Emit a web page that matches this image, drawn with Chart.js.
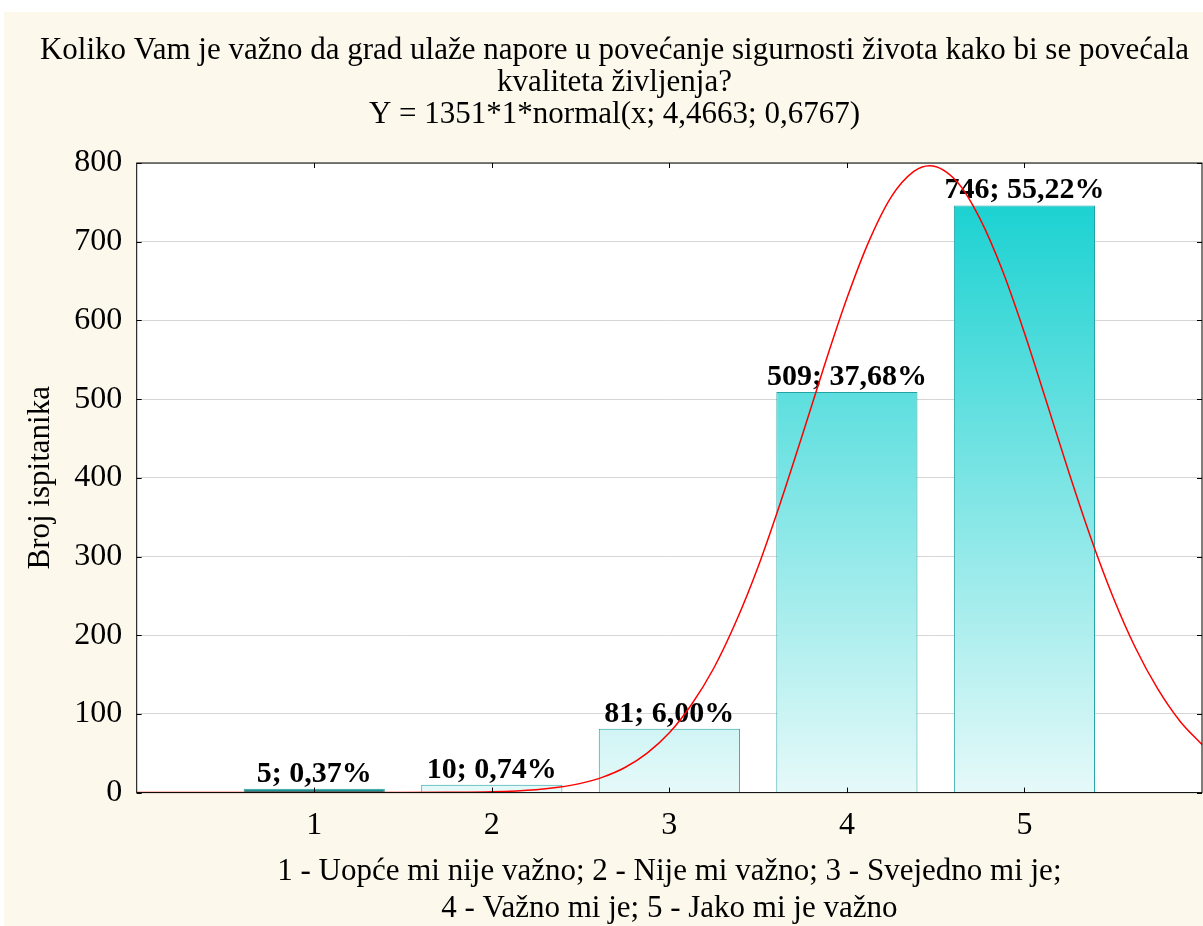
<!DOCTYPE html>
<html>
<head>
<meta charset="utf-8">
<script src="https://cdn.jsdelivr.net/npm/chart.js@4.4.1/dist/chart.umd.min.js"></script>
<style>
  html, body { margin: 0; padding: 0; background: #ffffff; overflow: hidden; }
  #wrap { position: absolute; left: 4px; top: 12px; width: 1212px; height: 914px; }
</style>
</head>
<body>
<div id="wrap"><canvas id="chart" width="1212" height="914"></canvas></div>
<script>
// answer categories (x), number of respondents and the share of each
const categories = [1, 2, 3, 4, 5];
const counts = [5, 10, 81, 509, 746];
const percents = ["0,37", "0,74", "6,00", "37,68", "55,22"];

// fitted normal curve
const curveX = [0, 0.5, 1, 1.5, 1.75, 2, 2.25, 2.375, 2.5, 2.625, 2.75, 2.875, 3, 3.125, 3.25, 3.375, 3.5, 3.625,
  3.75, 3.875, 4, 4.125, 4.25, 4.375, 4.466, 4.625, 4.75, 4.875, 5, 5.125, 5.25, 5.375, 5.5, 5.625, 5.75, 5.875, 6];
const curveY = [0, 0, 0, 0, 0.3, 1, 3.7, 6.7, 11.7, 19.7, 31.9, 50.2, 76, 112, 158, 217, 287, 368,
  455, 544, 628, 701, 757, 789, 796.5, 775, 729, 664, 584, 496, 407, 323, 248, 184, 132, 91, 61];

const xTickLabels = ["1", "2", "3", "4", "5"];
const titleLines = [
  "Koliko Vam je važno da grad ulaže napore u povećanje sigurnosti života kako bi se povećala",
  "kvaliteta življenja?",
  "Y = 1351*1*normal(x; 4,4663; 0,6767)"
];
const xTitleLines = [
  "1 - Uopće mi nije važno; 2 - Nije mi važno; 3 - Svejedno mi je;",
  "4 - Važno mi je; 5 - Jako mi je važno"
];

const FONT = "'Liberation Serif', 'Times New Roman', serif";

// cream page background, white plot area
const backgroundPlugin = {
  id: "cream",
  beforeDraw(chart) {
    const { ctx, width, height } = chart;
    ctx.save();
    ctx.fillStyle = "#fdf8ec";
    ctx.fillRect(0, 0, width, height);
    const a = chart.chartArea;
    ctx.fillStyle = "#ffffff";
    ctx.fillRect(a.left, a.top, a.right - a.left, a.bottom - a.top);
    ctx.restore();
  }
};

// value labels above the bars, drawn before the curve goes on top
const barLabelPlugin = {
  id: "barLabels",
  afterDatasetDraw(chart, args) {
    if (args.meta.type !== "bar") return;
    const { ctx } = chart;
    ctx.save();
    ctx.font = "bold 30px " + FONT;
    ctx.fillStyle = "#000";
    ctx.textAlign = "center";
    ctx.textBaseline = "alphabetic";
    args.meta.data.forEach((bar, i) => {
      ctx.fillText(counts[i] + "; " + percents[i] + "%", bar.x, bar.y - 7);
    });
    ctx.restore();
  }
};

// black frame with inward tick marks on all four sides
const framePlugin = {
  id: "frame",
  afterDraw(chart) {
    const { ctx, chartArea: a, scales } = chart;
    const t = 5;
    ctx.save();
    ctx.strokeStyle = "#000";
    ctx.lineWidth = 1;
    ctx.strokeRect(a.left, a.top, a.right - a.left, a.bottom - a.top);
    ctx.beginPath();
    categories.forEach((c) => {
      const px = Math.round(scales.x.getPixelForValue(c)) + 0.5;
      ctx.moveTo(px, a.bottom); ctx.lineTo(px, a.bottom - t);
      ctx.moveTo(px, a.top); ctx.lineTo(px, a.top + t);
    });
    scales.y.ticks.forEach((tk) => {
      const py = Math.round(scales.y.getPixelForValue(tk.value)) + 0.5;
      ctx.moveTo(a.left, py); ctx.lineTo(a.left + t, py);
      ctx.moveTo(a.right, py); ctx.lineTo(a.right - t, py);
    });
    ctx.stroke();
    ctx.restore();
  }
};

function barFill(context) {
  const chart = context.chart;
  const a = chart.chartArea;
  if (!a) return "#40d8d8";
  if (context.dataIndex === 0) return "#1e9090";
  const y = chart.scales.y;
  const g = chart.ctx.createLinearGradient(0, y.getPixelForValue(800), 0, y.getPixelForValue(0));
  g.addColorStop(0, "#0ecfcf");
  g.addColorStop(1, "#e6f9f9");
  return g;
}

new Chart(document.getElementById("chart"), {
  type: "bar",
  data: {
    datasets: [
      {
        type: "line",
        data: curveX.map((x, i) => ({ x: x, y: curveY[i] })),
        borderColor: "#ff0000",
        borderWidth: 1.5,
        pointRadius: 0,
        cubicInterpolationMode: "monotone",
        fill: false,
        order: 0
      },
      {
        type: "bar",
        data: categories.map((c, i) => ({ x: c, y: counts[i] })),
        backgroundColor: barFill,
        borderColor: "#23a3a3",
        borderWidth: 1,
        barPercentage: 1,
        categoryPercentage: 0.795,
        order: 1
      }
    ]
  },
  options: {
    responsive: false,
    animation: false,
    layout: { padding: { left: 17, right: 8, top: 0, bottom: 0 } },
    plugins: {
      legend: { display: false },
      tooltip: { enabled: false },
      title: {
        display: true,
        text: titleLines,
        color: "#000",
        font: { family: FONT, size: 31, weight: "normal", lineHeight: "32px" },
        padding: { top: 23, bottom: 32 }
      }
    },
    scales: {
      x: {
        type: "linear",
        min: 0,
        max: 6,
        offset: false,
        grid: { display: false, drawTicks: false },
        border: { display: false },
        ticks: {
          stepSize: 1,
          autoSkip: false,
          maxRotation: 0,
          color: "#000",
          font: { family: FONT, size: 32 },
          padding: 14,
          callback: (v) => (v >= 1 && v <= 5 ? xTickLabels[v - 1] : "")
        },
        title: {
          display: true,
          text: xTitleLines,
          color: "#000",
          font: { family: FONT, size: 31, lineHeight: "37px" },
          padding: { top: -5.5, bottom: -1.5 }
        }
      },
      y: {
        min: 0,
        max: 800,
        grid: { color: "#d6d6d6", drawTicks: false },
        border: { display: false },
        ticks: {
          stepSize: 100,
          color: "#000",
          font: { family: FONT, size: 32 },
          padding: 14.5
        },
        title: {
          display: true,
          text: "Broj ispitanika",
          color: "#000",
          font: { family: FONT, size: 31, lineHeight: 1.2 },
          padding: { top: 1.5, bottom: 0 }
        }
      }
    }
  },
  plugins: [backgroundPlugin, barLabelPlugin, framePlugin]
});
</script>
</body>
</html>
